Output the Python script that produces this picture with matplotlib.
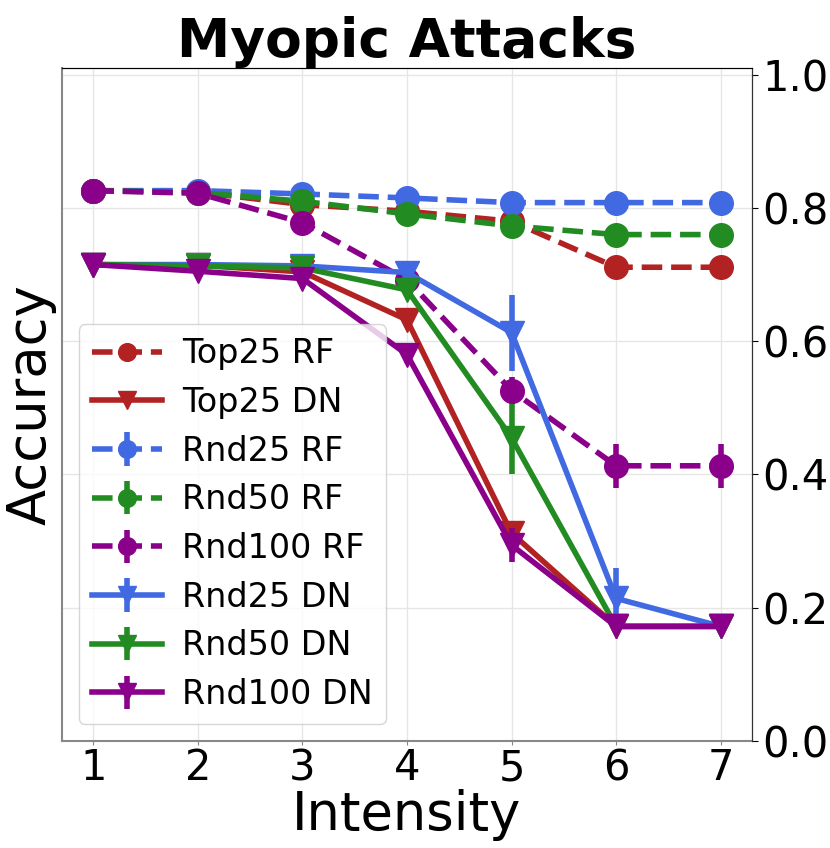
import matplotlib
matplotlib.use("Agg")
import matplotlib.pyplot as plt

# intensity levels
intensity = [1, 2, 3, 4, 5, 6, 7]

# random forest accuracy
top25_rf = [0.826, 0.824, 0.805, 0.795, 0.780, 0.711, 0.711]
rnd25_rf = [0.826, 0.826, 0.821, 0.815, 0.808, 0.808, 0.808]
rnd50_rf = [0.826, 0.823, 0.810, 0.791, 0.773, 0.760, 0.760]
rnd100_rf = [0.826, 0.822, 0.778, 0.692, 0.526, 0.413, 0.413]
rnd25_rf_err = [0.002, 0.002, 0.003, 0.003, 0.003, 0.003, 0.003]
rnd50_rf_err = [0.002, 0.002, 0.003, 0.004, 0.004, 0.004, 0.004]
rnd100_rf_err = [0.002, 0.003, 0.006, 0.012, 0.020, 0.033, 0.033]

# deep network accuracy
top25_dn = [0.715, 0.714, 0.704, 0.632, 0.312, 0.172, 0.172]
rnd25_dn = [0.715, 0.715, 0.713, 0.703, 0.613, 0.214, 0.172]
rnd50_dn = [0.715, 0.713, 0.710, 0.677, 0.455, 0.172, 0.172]
rnd100_dn = [0.715, 0.705, 0.694, 0.580, 0.294, 0.172, 0.172]
rnd25_dn_err = [0.002, 0.002, 0.003, 0.004, 0.057, 0.046, 0.002]
rnd50_dn_err = [0.002, 0.002, 0.003, 0.006, 0.055, 0.003, 0.002]
rnd100_dn_err = [0.002, 0.003, 0.005, 0.013, 0.026, 0.003, 0.002]

RED = "firebrick"
BLUE = "royalblue"
GREEN = "forestgreen"
PURPLE = "darkmagenta"

lw = 4
ms = 17

fig, ax = plt.subplots(figsize=(8.3, 8.48), dpi=100)
fig.subplots_adjust(left=62 / 830, right=752 / 830, top=1 - 68 / 848, bottom=1 - 741 / 848)

ax.plot(intensity, top25_rf, "--", marker="o", color=RED, lw=lw, ms=ms, label="Top25 RF")
ax.plot(intensity, top25_dn, "-", marker="v", color=RED, lw=lw, ms=ms, label="Top25 DN")

ax.errorbar(intensity, rnd25_rf, yerr=rnd25_rf_err, fmt="--o", color=BLUE,
            lw=lw, ms=ms, elinewidth=lw, capsize=0, label="Rnd25 RF")
ax.errorbar(intensity, rnd50_rf, yerr=rnd50_rf_err, fmt="--o", color=GREEN,
            lw=lw, ms=ms, elinewidth=lw, capsize=0, label="Rnd50 RF")
ax.errorbar(intensity, rnd100_rf, yerr=rnd100_rf_err, fmt="--o", color=PURPLE,
            lw=lw, ms=ms, elinewidth=lw, capsize=0, label="Rnd100 RF")
ax.errorbar(intensity, rnd25_dn, yerr=rnd25_dn_err, fmt="-v", color=BLUE,
            lw=lw, ms=ms, elinewidth=lw, capsize=0, label="Rnd25 DN")
ax.errorbar(intensity, rnd50_dn, yerr=rnd50_dn_err, fmt="-v", color=GREEN,
            lw=lw, ms=ms, elinewidth=lw, capsize=0, label="Rnd50 DN")
ax.errorbar(intensity, rnd100_dn, yerr=rnd100_dn_err, fmt="-v", color=PURPLE,
            lw=lw, ms=ms, elinewidth=lw, capsize=0, label="Rnd100 DN")

ax.set_xlim(0.7, 7.3)
ax.set_ylim(0, 1.01)
ax.set_xticks(intensity)
ax.set_yticks([0.2, 0.4, 0.6, 0.8, 1.0])
ax.tick_params(axis="y", length=0, labelleft=False)
ax.tick_params(axis="x", labelsize=30, color="#888888", length=3, pad=1.5)
ax.grid(True, color="#e6e6e6", lw=1)
ax.set_axisbelow(True)
for side in ["left", "bottom"]:
    ax.spines[side].set_color("#888888")
    ax.spines[side].set_linewidth(1.5)
ax.spines["top"].set_color("#333333")

ax.set_xlabel("Intensity", fontsize=38, labelpad=0)
ax.set_ylabel("Accuracy", fontsize=38)
ax.set_title("Myopic Attacks", fontsize=38.5, fontweight="bold")

ax.legend(loc="lower left", fontsize=24, framealpha=0.8, handlelength=2.1,
          handletextpad=0.6, labelspacing=0.47, markerscale=0.75)

# accuracy labels live on the right side
ax2 = ax.twinx()
ax2.set_ylim(0, 1.01)
ax2.set_yticks([0.0, 0.2, 0.4, 0.6, 0.8, 1.0])
ax2.set_yticklabels(["0.0", "0.2", "0.4", "0.6", "0.8", "1.0"])
ax2.tick_params(axis="y", labelsize=30, length=4)
ax2.spines["right"].set_color("#333333")
ax2.spines["left"].set_visible(False)
ax2.spines["bottom"].set_visible(False)

fig.savefig("out.png", dpi=100)
